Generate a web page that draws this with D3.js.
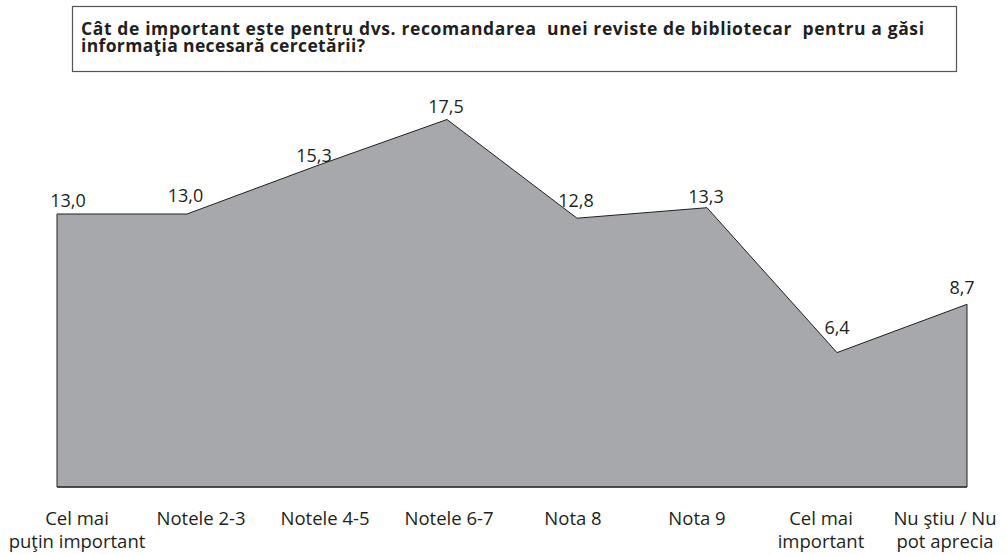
<!DOCTYPE html>
<html>
<head>
<meta charset="utf-8">
<script src="https://cdn.jsdelivr.net/npm/d3@7"></script>
<style>
  body { margin: 0; background: #fff; }
  text { font-family: "Open Sans", sans-serif; fill: #231f20; }
</style>
</head>
<body>
<div id="chart"></div>
<script>
'use strict';

// chart data
const categories = ["c1", "c2", "c3", "c4", "c5", "c6", "c7", "c8"];
const categoryLabels = [
  ["Cel mai", "puţin important"],
  ["Notele 2-3"],
  ["Notele 4-5"],
  ["Notele 6-7"],
  ["Nota 8"],
  ["Nota 9"],
  ["Cel mai", "important"],
  ["Nu ştiu / Nu", "pot aprecia"]
];
const values = [13.0, 13.0, 15.3, 17.5, 12.8, 13.3, 6.4, 8.7];
const titleLines = [
  "Cât de important este pentru dvs. recomandarea  unei reviste de bibliotecar  pentru a găsi",
  "informaţia necesară cercetării?"
];

const width = 1005, height = 555;

const svg = d3.select('#chart')
  .append('svg')
  .attr('width', width)
  .attr('height', height);

// title box
svg.append('rect')
  .attr('x', 72.5)
  .attr('y', 6.5)
  .attr('width', 884)
  .attr('height', 65)
  .attr('fill', '#fff')
  .attr('stroke', '#555')
  .attr('stroke-width', 1.2);

// title lines, fitted to the widths they have in the original
const titleWidths = [843, 284];
svg.selectAll('.title')
  .data(titleLines)
  .enter()
  .append('text')
    .attr('class', 'title')
    .attr('x', 81)
    .attr('y', (d, i) => 35 + i * 16.5)
    .attr('textLength', (d, i) => titleWidths[i])
    .attr('lengthAdjust', 'spacing')
    .style('font-weight', 'bold')
    .style('font-size', '17.5px')
    .style('white-space', 'pre')
    .text(d => d);

// scales
const x = d3.scalePoint()
  .domain(categories)
  .range([57, 967]);

const xLabel = d3.scalePoint()
  .domain(categories)
  .range([77, 945]);

const y = d3.scaleLinear()
  .domain([0, 20])
  .range([487, 67]);

const rows = categories.map((c, i) => ({ cat: c, value: values[i], label: categoryLabels[i] }));

// area
const area = d3.area()
  .x(d => x(d.cat))
  .y0(y(0))
  .y1(d => y(d.value));

svg.append('path')
  .datum(rows)
  .attr('d', area)
  .attr('fill', '#a7a8ab')
  .attr('stroke', '#231f20')
  .attr('stroke-width', 1)
  .attr('stroke-linejoin', 'miter');

// baseline
svg.append('line')
  .attr('x1', x(categories[0]))
  .attr('x2', x(categories[categories.length - 1]))
  .attr('y1', y(0))
  .attr('y2', y(0))
  .attr('stroke', '#3a3a3a')
  .attr('stroke-width', 1.5);

// value labels (small nudges so they sit like in the original)
const labelOffsets = [[11, -7], [-1.5, -12], [-3, -4], [-1, -7], [-1, -11], [-1, -5], [0, -19], [-5, -10]];
svg.selectAll('.valueLabel')
  .data(rows)
  .enter()
  .append('text')
    .attr('class', 'valueLabel')
    .attr('x', (d, i) => x(d.cat) + labelOffsets[i][0])
    .attr('y', (d, i) => y(d.value) + labelOffsets[i][1])
    .attr('text-anchor', 'middle')
    .style('font-size', '18px')
    .text(d => d.value.toFixed(1).replace('.', ','));

// category labels
const catGroups = svg.selectAll('.catLabel')
  .data(rows)
  .enter()
  .append('text')
    .attr('class', 'catLabel')
    .attr('text-anchor', 'middle')
    .style('font-size', '18.5px');

catGroups.selectAll('tspan')
  .data(d => d.label.map(t => ({ t: t, cat: d.cat })))
  .enter()
  .append('tspan')
    .attr('x', d => xLabel(d.cat))
    .attr('y', (d, i) => 525 + i * 23)
    .text(d => d.t);
</script>
</body>
</html>
